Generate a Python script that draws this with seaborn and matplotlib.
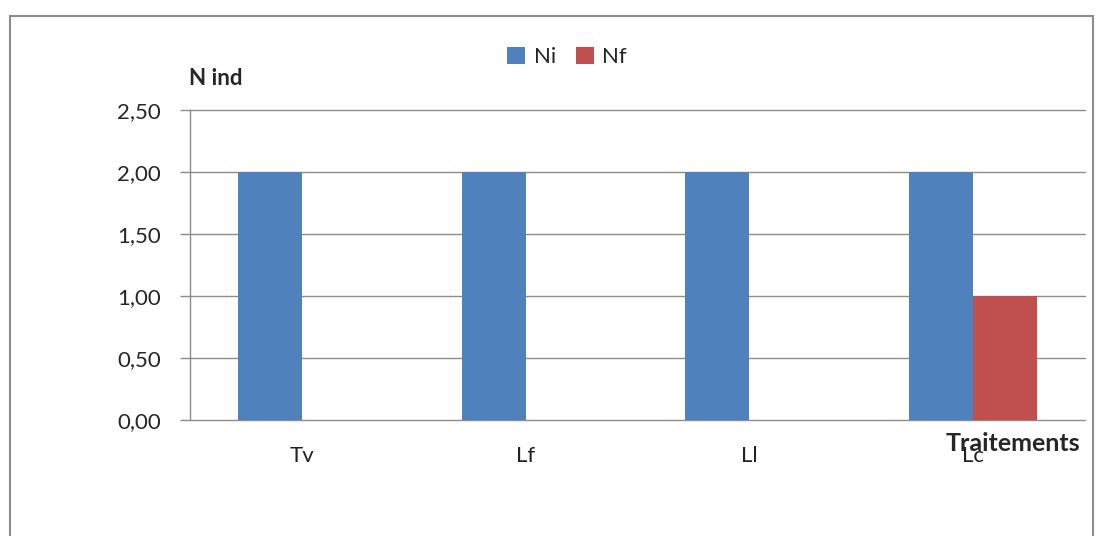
import pandas as pd
import matplotlib.pyplot as plt
import matplotlib.patches as patches
import seaborn as sns

# Data
traitements = ["Tv", "Lf", "Ll", "Lc"]
ni = [2.0, 2.0, 2.0, 2.0]
nf = [0.0, 0.0, 0.0, 1.0]
yticks = [0.0, 0.5, 1.0, 1.5, 2.0, 2.5]

df = pd.DataFrame({
    "Traitement": traitements * 2,
    "Valeur": ni + nf,
    "Serie": ["Ni"] * len(ni) + ["Nf"] * len(nf),
})

sns.set_style("white")
plt.rcParams["font.family"] = ["Lato", "DejaVu Sans"]

fig = plt.figure(figsize=(11.01, 5.36), dpi=100)
ax = fig.add_axes([0.1726, 0.2164, 0.8129, 0.5784])

sns.barplot(data=df, x="Traitement", y="Valeur", hue="Serie",
            palette={"Ni": "#4F81BD", "Nf": "#C0504D"},
            width=0.572, saturation=1, linewidth=0, ax=ax, legend=True)

ax.set_ylim(0, 2.5)
ax.set_xlim(-0.5, 3.5)
ax.set_yticks(yticks)
ax.set_yticklabels([f"{v:.2f}".replace(".", ",") for v in yticks], fontsize=16)
ax.set_xticks(range(len(traitements)))
ax.set_xticklabels(traitements, fontsize=16, color="#222222")
ax.grid(axis="y", color="#8c8c8c", linewidth=1)
for gl in ax.get_ygridlines():
    gl.set_clip_on(False)
ax.set_axisbelow(True)

for s in ["top", "right", "bottom"]:
    ax.spines[s].set_visible(False)
ax.spines["left"].set_color("#8c8c8c")
ax.spines["left"].set_linewidth(1)

ax.tick_params(axis="y", direction="out", length=7, width=1, color="#8c8c8c",
               pad=14, left=True)
ax.tick_params(axis="x", length=0, pad=19)

ax.set_ylabel("N ind", rotation=0, fontsize=16, fontweight="bold",
              ha="center", va="center")
ax.yaxis.set_label_coords(0.029, 1.103)
ax.set_xlabel("Traitements", fontsize=18, fontweight="bold", va="top")
ax.xaxis.set_label_coords(0.9196, -0.040)

handles, labels = ax.get_legend_handles_labels()
ax.legend(handles, labels, loc="center", bbox_to_anchor=(0.515, 0.893),
          bbox_transform=fig.transFigure, ncol=2, frameon=False, fontsize=16,
          handlelength=0.8, handleheight=0.8, handletextpad=0.4,
          columnspacing=0.9)

# outer chart frame
fig.patches.append(patches.Rectangle((10 / 1101, -0.05), 1083 / 1101, 1.05 - 16 / 536,
                                     transform=fig.transFigure, fill=False,
                                     edgecolor="#8c8c8c", linewidth=1.5))

fig.savefig("out.png", dpi=100)
